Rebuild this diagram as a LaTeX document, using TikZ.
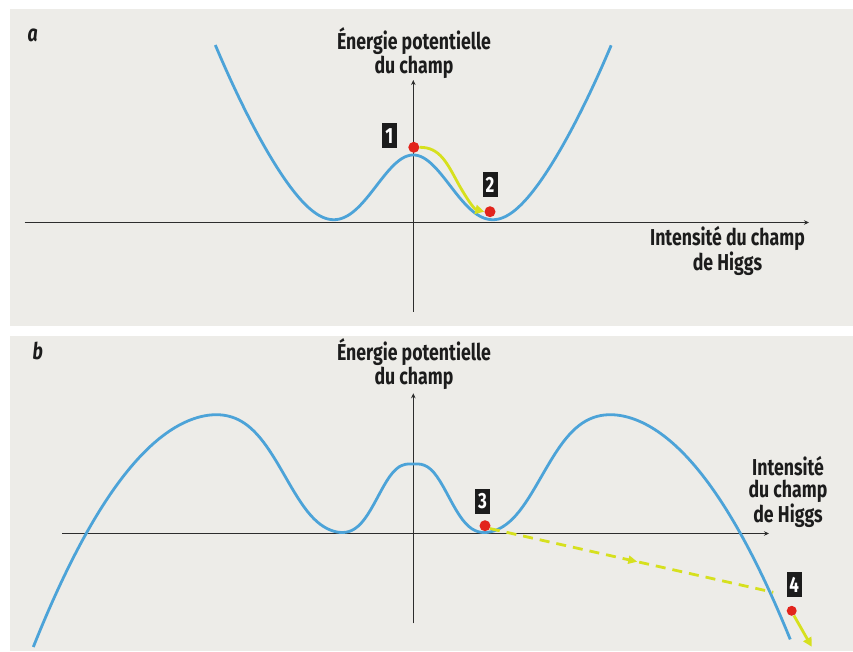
\documentclass[tikz,border=0pt]{standalone}
\usepackage{fontspec}
\setmainfont{Fira Sans}[FakeStretch=0.77]
\usetikzlibrary{arrows.meta,decorations.markings}
\definecolor{bg}{RGB}{237,236,232}
\definecolor{curveblue}{RGB}{76,163,216}
\definecolor{dotred}{RGB}{226,36,28}
\definecolor{arrowyellow}{RGB}{214,224,30}
\definecolor{axisgray}{RGB}{45,45,45}
\definecolor{inkblack}{RGB}{28,28,28}
\tikzset{
  panel/.style={fill=bg, draw=none},
  axis/.style={draw=axisgray, line width=1.4pt, -{Stealth[length=5pt,width=4.5pt]}},
  potential/.style={draw=curveblue, line width=2.8pt, line join=round, variable=\U, samples=241},
  ball/.style={circle, fill=dotred, minimum size=11pt, inner sep=0pt},
  numbox/.style={fill=inkblack, text=white, minimum width=15pt, minimum height=25pt, inner sep=0pt, font=\fontsize{22}{22}\selectfont\bfseries},
  axislabel/.style={align=center, font=\fontsize{23}{22}\selectfont\bfseries, text=inkblack},
  panellabel/.style={font=\fontsize{23}{23}\selectfont\itshape\bfseries, anchor=base west, text=inkblack},
  roll/.style={draw=arrowyellow, line width=2.8pt, -{Triangle[length=9pt,width=9pt]}},
  rolldash/.style={draw=arrowyellow, line width=2.8pt, dash pattern=on 10pt off 7pt,
    postaction={decorate, decoration={markings, mark=at position 0.52 with {\arrow[arrowyellow]{Triangle[length=9pt,width=8pt]}}}}}
}
\begin{document}
\begin{tikzpicture}[x=1pt,y=-1pt]
\useasboundingbox (0,0) rectangle (853,651);
\fill[white] (0,0) rectangle (853,651);
% panels
\path[panel] (10,9) rectangle (853,325.7);
\path[panel] (10,336) rectangle (853,651);

% ---------------- panel a ----------------
\node[panellabel] (la) at (24,41.5) {a};
\coordinate (axL) at (24.5,222.5);
\coordinate (axR) at (809,222.5);
\coordinate (ayB) at (413.3,311.5);
\coordinate (ayT) at (413.3,80);
\draw[axis] (axL) -- (axR);
\draw[axis] (ayB) -- (ayT);
\node[axislabel, anchor=base] (ya) at (414,73.3) {Énergie potentielle\\du champ};
\node[axislabel, anchor=base] (xa) at (727.5,270) {Intensité du champ\\de Higgs};

\draw[potential, domain=-1.98:1.98]
  plot ({413.3+100*\U}, {222.5-(59.68*\U*\U+124*exp(-\U*\U/0.3615)-56.5)});

\node[ball] (d1) at (413.8,147.3) {};
\node[ball] (d2) at (490,211.7) {};
\node[numbox] (n1) at (389.3,135.7) {1};
\node[numbox] (n2) at (490,184.5) {2};
\draw[roll] (d1.east) .. controls (440,147) and (447,163) .. (459,185)
  .. controls (467,199) and (474,209) .. (d2.west);

% ---------------- panel b ----------------
\node[panellabel] (lb) at (29,359.5) {b};
\coordinate (bxL) at (62.3,533.5);
\coordinate (bxR) at (769,533.5);
\coordinate (byB) at (413.3,623.3);
\coordinate (byT) at (413.3,393.3);
\draw[axis] (bxL) -- (bxR);
\draw[axis] (byB) -- (byT);
\node[axislabel, anchor=base] (yb) at (414,384.3) {Énergie potentielle\\du champ};
\node[axislabel, anchor=base] (xb) at (788,522.7) {Intensité\\du champ\\de Higgs};

\draw[potential, domain=-3.8:3.77]
  plot ({413.3+100*\U}, {533.5-( 119.5-68*(sqrt(\U*\U+0.16)-1.97)^2
      -50*exp(-min(((abs(\U)-1.02)/0.45)^2,20))
      +118*exp(-min(pow(\U*\U/0.1823+0.0001,1.25),20)) )});

\node[ball] (d3) at (485,525.7) {};
\node[ball, minimum size=10pt] (d4) at (791.7,610.8) {};
\node[numbox] (n3) at (482.5,501.5) {3};
\node[numbox] (n4) at (794.2,584.7) {4};
\coordinate (e3) at (773.3,592.3);
\draw[rolldash] (d3.-30) -- (e3);
\draw[roll] (d4.-65) -- (811.7,646.7);
\end{tikzpicture}
\end{document}
